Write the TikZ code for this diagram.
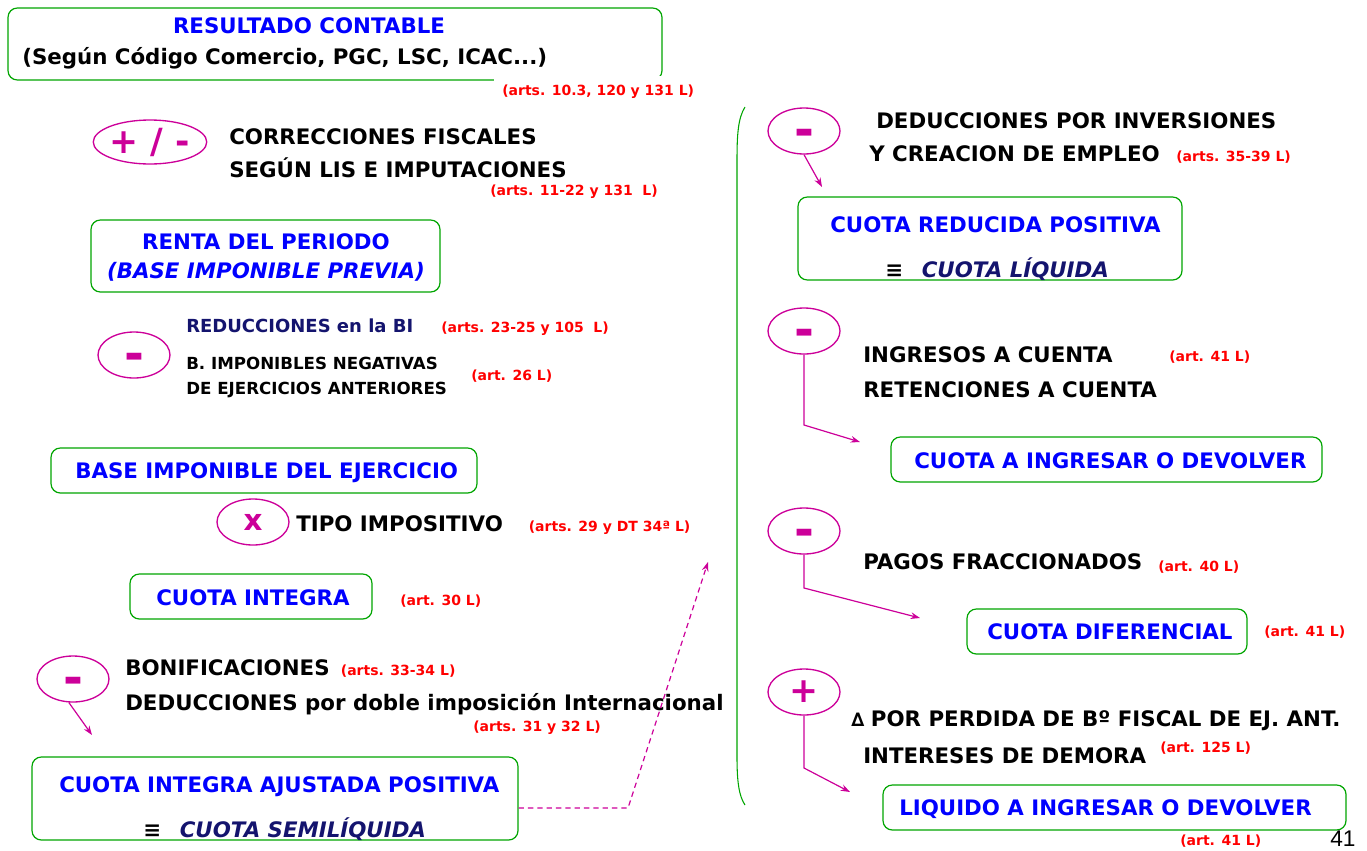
\documentclass[tikz,border=0pt]{standalone}
\usepackage{fontspec}
\setmainfont{DejaVu Sans}
\newfontfamily\pagefont{Liberation Sans}
\usetikzlibrary{positioning,shapes.geometric,fit,arrows.meta}
\definecolor{hdblue}{RGB}{0,0,255}
\definecolor{navy}{RGB}{20,20,110}
\definecolor{artred}{RGB}{255,0,0}
\definecolor{mag}{RGB}{204,0,153}
\definecolor{boxgreen}{RGB}{0,165,0}
\newcommand\setfs[1]{\fontsize{#1}{#1}\selectfont\bfseries}

\begin{document}
\begin{tikzpicture}[x=0.75pt,y=-0.75pt,>={Stealth[length=7pt,width=5pt]},
    box/.style={draw=boxgreen, line width=0.9pt, rounded corners=7pt, inner sep=0pt},
    op/.style={ellipse, draw=mag, line width=1pt, text=mag, inner sep=0pt,
      minimum width=54pt, minimum height=34.5pt, font=\setfs{24}},
    minus/.style={op, font=\setfs{36}, text height=23pt, text depth=0pt},
    txt/.style={anchor=base west, inner sep=0pt, font=\setfs{16}},
    hd/.style={txt, text=hdblue},
    small/.style={txt, font=\setfs{12.5}},
    art/.style={anchor=base west, inner sep=0pt, text=artred, font=\setfs{10.5}},
    conn/.style={->, draw=mag, line width=0.9pt}]
  \useasboundingbox (0,0) rectangle (1367,850);

  % boxes
  \node[box, fit={(8,8) (662,80)}] (rc) {};
  \node[box, fit={(91,220) (440,292)}] (rp) {};
  \node[box, fit={(51,448) (477,493)}] (bie) {};
  \node[box, fit={(130,574) (372,619)}] (ci) {};
  \node[box, fit={(32,757) (518,840)}] (ciap) {};
  \node[box, fit={(798,197) (1182,280)}] (crp) {};
  \node[box, fit={(891,437) (1322,482)}] (caid) {};
  \node[box, fit={(967,609) (1247,654)}] (cd) {};
  \node[box, fit={(883,785) (1346,830)}] (laid) {};

  % operators
  \node[op, minimum width=81pt, minimum height=33pt, font=\setfs{26}] (opcorr) at (150,142) {+ / -};
  \node[minus] (opred) at (134,355) {-};
  \node[op, font=\setfs{22}] (opmul) at (253,522) {x};
  \node[minus] (opbon) at (73,679) {-};
  \node[minus] (opinv) at (804,131) {-};
  \node[minus] (oping) at (804,331) {-};
  \node[minus] (oppag) at (804,531) {-};
  \node[op, font=\setfs{26}] (opint) at (804,692) {+};

  % left column
  \node[hd, anchor=base] (rct) at (309,33) {RESULTADO CONTABLE};
  \node[txt] (rcs) at (22,64) {(Según Código Comercio, PGC, LSC, ICAC...)};
  \node[art, fill=white, inner sep=6pt] (artrc) at (494,95) {(arts. 10.3, 120 y 131 L)};
  \node[txt] (corr1) at (229,144) {CORRECCIONES FISCALES};
  \node[txt] (corr2) at (229,177) {SEGÚN LIS E IMPUTACIONES};
  \node[art] (artcorr) at (490,195) {(arts. 11-22 y 131 \ L)};
  \node[hd, anchor=base] (rpt) at (266,249) {RENTA DEL PERIODO};
  \node[hd, anchor=base] (rpi) at (266,278) {\itshape (BASE IMPONIBLE PREVIA)};
  \node[txt, text=navy, font=\setfs{13.5}] (red) at (186,332) {REDUCCIONES en la BI};
  \node[art] (artred) at (441,332) {(arts. 23-25 y 105 \ L)};
  \node[small] (bin1) at (186,369) {B. IMPONIBLES NEGATIVAS};
  \node[small] (bin2) at (186,394) {DE EJERCICIOS ANTERIORES};
  \node[art] (artbin) at (471,380) {(art. 26 L)};
  \node[hd] (biet) at (75,478) {BASE IMPONIBLE DEL EJERCICIO};
  \node[txt] (tipo) at (296,531) {TIPO IMPOSITIVO};
  \node[art, base right=19pt of tipo] (arttipo) {(arts. 29 y DT 34ª L)};
  \node[hd] (cit) at (156,605) {CUOTA INTEGRA};
  \node[art] (artci) at (400,605) {(art. 30 L)};
  \node[txt] (bonif) at (125,675) {BONIFICACIONES};
  \node[art, base right=8pt of bonif] (artbonif) {(arts. 33-34 L)};
  \node[txt] (dedint) at (125,710) {DEDUCCIONES por doble imposición Internacional};
  \node[art] (artded) at (473,731) {(arts. 31 y 32 L)};
  \node[hd] (ciapt) at (59,792) {CUOTA INTEGRA AJUSTADA POSITIVA};
  \node[txt] (ciaps) at (143,837) {≡\hspace{14pt}\textcolor{navy}{\itshape CUOTA SEMILÍQUIDA}};

  % right column
  \node[txt] (dinv1) at (876,128) {DEDUCCIONES POR INVERSIONES};
  \node[txt] (dinv2) at (869,161) {Y CREACION DE EMPLEO};
  \node[art, base right=12pt of dinv2] (artdinv) {(arts. 35-39 L)};
  \node[hd] (crpt) at (830,232) {CUOTA REDUCIDA POSITIVA};
  \node[txt] (crps) at (885,277) {≡\hspace{14pt}\textcolor{navy}{\itshape CUOTA LÍQUIDA}};
  \node[txt] (ing) at (863,362) {INGRESOS A CUENTA};
  \node[art] (arting) at (1169,361) {(art. 41 L)};
  \node[txt] (ret) at (863,397) {RETENCIONES A CUENTA};
  \node[hd] (caidt) at (914,468) {CUOTA A INGRESAR O DEVOLVER};
  \node[txt] (pagos) at (863,569) {PAGOS FRACCIONADOS};
  \node[art] (artpagos) at (1158,571) {(art. 40 L)};
  \node[hd] (cdt) at (987,639) {CUOTA DIFERENCIAL};
  \node[art] (artcd) at (1264,636) {(art. 41 L)};
  \node[txt] (perd) at (851,726) {{\setfs{14}∆}\hspace{5pt}POR PERDIDA DE Bº FISCAL DE EJ. ANT.};
  \node[txt] (inter) at (863,763) {INTERESES DE DEMORA};
  \node[art] (artinter) at (1160,752) {(art. 125 L)};
  \node[hd] (laidt) at (899,815) {LIQUIDO A INGRESAR O DEVOLVER};
  \node[art] (artlaid) at (1180,845) {(art. 41 L)};
  \node[anchor=base west, inner sep=0pt, font=\pagefont\fontsize{17}{17}\selectfont] (page) at (1330,846) {41};

  % connectors
  \coordinate (bonend) at (92,735);
  \coordinate (invend) at (822,187);
  \coordinate (ingend) at (860,442);
  \coordinate (pagend) at (920,618);
  \coordinate (intend) at (850,792);
  \coordinate (dknee) at (628,808);
  \coordinate (dtop) at (708,562);
  \draw[conn] (opbon.260) -- (bonend);
  \draw[conn] (opinv.south) -- (invend);
  \draw[conn] (oping.south) -- (oping.south |- 0,425) -- (ingend);
  \draw[conn] (oppag.south) -- (oppag.south |- 0,588) -- (pagend);
  \draw[conn] (opint.south) -- (opint.south |- 0,768) -- (intend);
  \draw[conn, dash pattern=on 4pt off 3pt] (ciap.east |- dknee) -- (dknee) -- (dtop);

  % bracket
  \draw[boxgreen, line width=0.8pt] (745,107) .. controls (738,118) and (737,135) .. (737,160)
    -- (737,757) .. controls (737,782) and (739,796) .. (745,805);
\end{tikzpicture}
\end{document}
